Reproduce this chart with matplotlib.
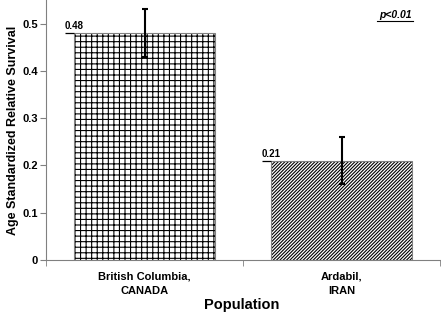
import matplotlib
matplotlib.use("Agg")
import matplotlib.pyplot as plt

# data
populations = ["British Columbia,\nCANADA", "Ardabil,\nIRAN"]
survival = [0.48, 0.21]
err = [0.05, 0.05]
hatches = ["+++", "//////////"]
value_labels = ["0.48", "0.21"]
yticks = [0, 0.1, 0.2, 0.3, 0.4, 0.5]

plt.rcParams["font.family"] = "Liberation Sans"
plt.rcParams["hatch.linewidth"] = 0.8

fig = plt.figure(figsize=(4.41, 3.15), dpi=100)
ax = fig.add_axes([46 / 441, 55 / 315, 394 / 441, 260 / 315])

x = range(len(populations))
bars = ax.bar(x, survival, width=0.716, color="white", edgecolor="#808080",
              linewidth=0.8, zorder=2)
for b, h in zip(bars, hatches):
    b.set_hatch(h)
    b._hatch_color = (0, 0, 0, 1)

ax.errorbar(x, survival, yerr=err, fmt="none", ecolor="black", elinewidth=1.5,
            capsize=2.5, capthick=1.5, zorder=3)

# value labels sitting at the left corner of each bar, with small leader line
for i, (v, lab) in enumerate(zip(survival, value_labels)):
    left = i - 0.358
    ax.text(left, v + 0.004, lab, ha="center", va="bottom",
            fontsize=7, fontweight="bold", zorder=4)
    ax.plot([left - 0.048, left], [v, v], color="black", lw=0.9,
            solid_capstyle="butt", zorder=3)

ax.text(0.886, 0.942, "p<0.01", transform=ax.transAxes, ha="center",
        va="center", fontsize=7.5, fontweight="bold", style="italic")
ax.plot([0.84, 0.931], [0.921, 0.921], transform=ax.transAxes, color="black",
        lw=0.8)

ax.set_xlim(-0.5, 1.5)
ax.set_ylim(0, 0.55)
ax.set_yticks(yticks)
ax.set_yticklabels(["0", "0.1", "0.2", "0.3", "0.4", "0.5"])
ax.set_xticks(list(x))
ax.set_xticklabels(populations, linespacing=1.55)
ax.set_xticks([-0.5, 0.5, 1.5], minor=True)
ax.tick_params(axis="x", which="major", length=0, pad=8)
ax.tick_params(axis="x", which="minor", length=4, color="#808080")
ax.tick_params(axis="y", length=4, color="#808080", pad=2)
for lab in ax.get_xticklabels() + ax.get_yticklabels():
    lab.set_fontweight("bold")
    lab.set_fontsize(8)

ax.spines["top"].set_visible(False)
ax.spines["right"].set_visible(False)
ax.spines["left"].set_color("#808080")
ax.spines["bottom"].set_color("#808080")

ax.set_ylabel("Age Standardized Relative Survival", fontsize=9,
              fontweight="bold", labelpad=2)
fig.text(242 / 441, 10 / 315, "Population", ha="center", va="center",
         fontsize=10.5, fontweight="bold")

fig.savefig("out.png", dpi=100)
